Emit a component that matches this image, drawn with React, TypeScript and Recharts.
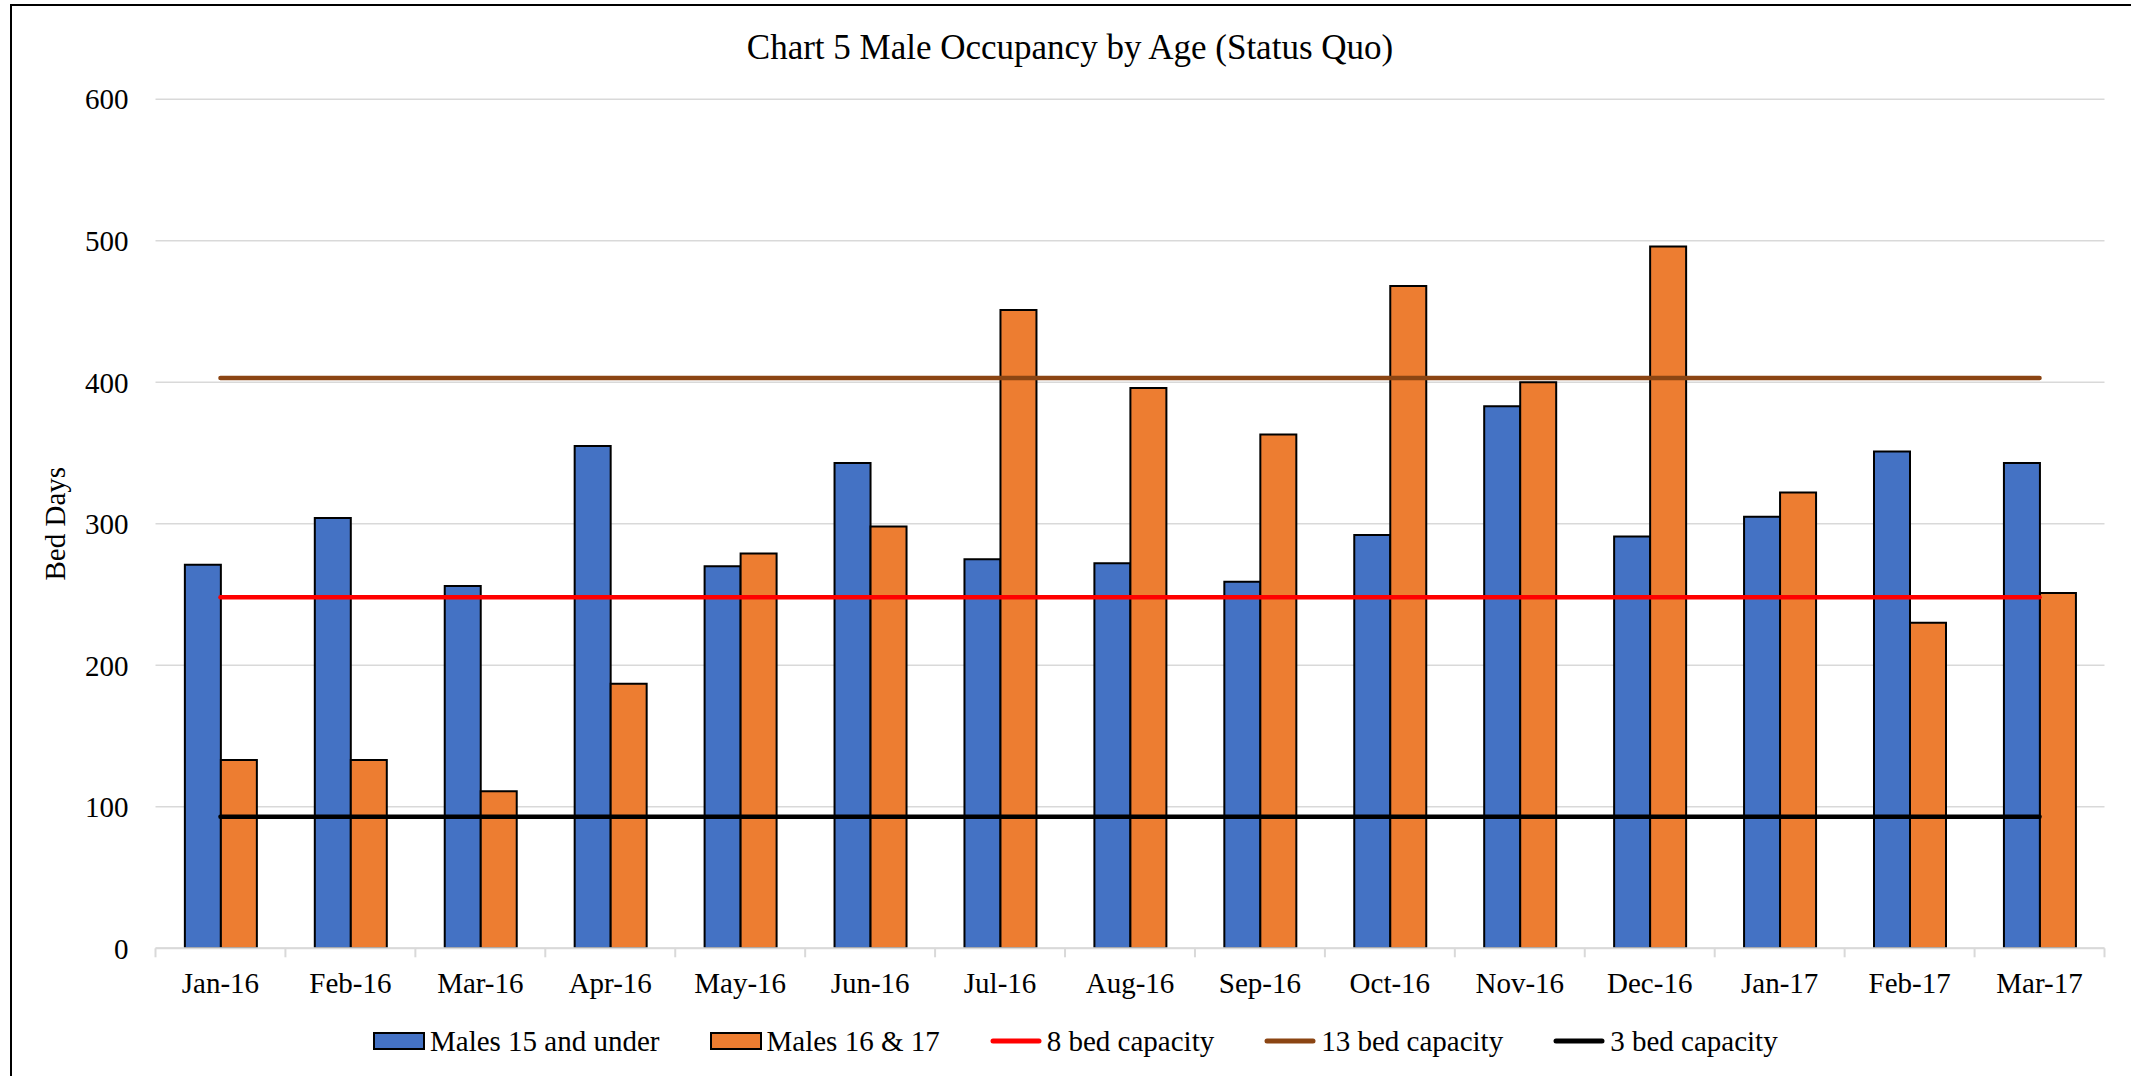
import React from 'react';
import { ComposedChart, Bar, Line, XAxis, YAxis, CartesianGrid, Legend } from 'recharts';

const months = ['Jan-16', 'Feb-16', 'Mar-16', 'Apr-16', 'May-16', 'Jun-16', 'Jul-16', 'Aug-16', 'Sep-16', 'Oct-16', 'Nov-16', 'Dec-16', 'Jan-17', 'Feb-17', 'Mar-17'];
const males15AndUnder = [271, 304, 256, 355, 270, 343, 275, 272, 259, 292, 383, 291, 305, 351, 343];
const males16And17 = [133, 133, 111, 187, 279, 298, 451, 396, 363, 468, 400, 496, 322, 230, 251];
const bed8Capacity = [248, 248, 248, 248, 248, 248, 248, 248, 248, 248, 248, 248, 248, 248, 248];
const bed13Capacity = [403, 403, 403, 403, 403, 403, 403, 403, 403, 403, 403, 403, 403, 403, 403];
const bed3Capacity = [93, 93, 93, 93, 93, 93, 93, 93, 93, 93, 93, 93, 93, 93, 93];
const yTicks = [0, 100, 200, 300, 400, 500, 600];
const seriesNames = ['Males 15 and under', 'Males 16 & 17', '8 bed capacity', '13 bed capacity', '3 bed capacity'];

const data = months.map((m, i) => ({
  month: m,
  u15: males15AndUnder[i],
  a1617: males16And17[i],
  cap8: bed8Capacity[i],
  cap13: bed13Capacity[i],
  cap3: bed3Capacity[i],
}));

const FONT = '"Liberation Serif", "Times New Roman", serif';
const W = 2131;
const H = 1076;
const TICK_MARGIN = 10;
const PLOT_LEFT = 155.5;
const PLOT_RIGHT_MARGIN = 26.5;
const GRID = '#d9d9d9';

const XTick = (props: any) => {
  const { x, y, payload, index, visibleTicksCount } = props;
  const half = payload && payload.offset != null ? payload.offset : (W - PLOT_LEFT - PLOT_RIGHT_MARGIN) / months.length / 2;
  const axisY = y - TICK_MARGIN;
  return (
    <g>
      <line x1={x - half} x2={x - half} y1={axisY} y2={axisY + 9} stroke={GRID} strokeWidth={2} />
      {index === visibleTicksCount - 1 && (
        <line x1={x + half} x2={x + half} y1={axisY} y2={axisY + 9} stroke={GRID} strokeWidth={2} />
      )}
      <text x={x} y={axisY + 45} textAnchor="middle" fontSize={29} fontFamily={FONT} fill="#000">
        {payload.value}
      </text>
    </g>
  );
};

const YLabel = (props: any) => {
  const vb = props.viewBox || {};
  const cx = 55;
  const cy = (vb.y || 0) + (vb.height || 0) / 2;
  return (
    <text
      x={cx}
      y={cy}
      transform={`rotate(-90, ${cx}, ${cy})`}
      textAnchor="middle"
      dominantBaseline="central"
      fontSize={29}
      fontFamily={FONT}
      fill="#000"
    >
      Bed Days
    </text>
  );
};

const LegendContent = (props: any) => {
  const payload = [...(props.payload || [])].sort(
    (a: any, b: any) => seriesNames.indexOf(a.value) - seriesNames.indexOf(b.value)
  );
  return (
    <div
      style={{
        height: 40,
        width: W,
        display: 'flex',
        alignItems: 'center',
        paddingLeft: 373,
        boxSizing: 'border-box',
        fontFamily: FONT,
        fontSize: 29,
        color: '#000',
      }}
    >
      {payload.map((entry: any, i: number) => (
        <div key={i} style={{ display: 'flex', alignItems: 'center', marginRight: 50 }}>
          <svg width={52} height={20} style={{ marginRight: 5 }}>
            {entry.type === 'line' ? (
              <line x1={3} x2={49} y1={10} y2={10} stroke={entry.color} strokeWidth={5} strokeLinecap="round" />
            ) : (
              <rect x={1} y={2} width={50} height={16} fill={entry.color} stroke="#000" strokeWidth={2} />
            )}
          </svg>
          <span style={{ whiteSpace: 'nowrap', lineHeight: 1, fontFamily: FONT }}>{entry.value}</span>
        </div>
      ))}
    </div>
  );
};

export default function App() {
  return (
    <div style={{ position: 'fixed', left: 0, top: 0, width: W, height: H, overflow: 'hidden', background: '#fff' }}>
      <div
        style={{
          position: 'absolute',
          left: 10,
          top: 4,
          width: W + 100,
          height: H + 100,
          borderLeft: '2px solid #000',
          borderTop: '2px solid #000',
        }}
      />
      <div
        style={{
          position: 'absolute',
          left: 1070 - 500,
          width: 1000,
          top: 29.7,
          textAlign: 'center',
          fontFamily: FONT,
          fontSize: 35,
          lineHeight: 1,
          color: '#000',
          whiteSpace: 'nowrap',
        }}
      >
        Chart 5 Male Occupancy by Age (Status Quo)
      </div>
      <div style={{ position: 'absolute', left: 0, top: 0 }}>
        <ComposedChart
          width={W}
          height={H}
          data={data}
          margin={{ top: 99.2, right: PLOT_RIGHT_MARGIN, bottom: 27.7, left: 0 }}
          barCategoryGap="22.6%"
          barGap={0}
        >
          <CartesianGrid horizontal={true} vertical={false} stroke={GRID} strokeWidth={1.5} />
          <XAxis
            dataKey="month"
            height={60}
            interval={0}
            tickLine={false}
            tickSize={0}
            tickMargin={TICK_MARGIN}
            axisLine={{ stroke: GRID, strokeWidth: 2 }}
            tick={<XTick />}
          />
          <YAxis
            width={PLOT_LEFT}
            domain={[0, 600]}
            ticks={yTicks}
            allowDataOverflow={true}
            axisLine={false}
            tickLine={false}
            tickSize={0}
            tickMargin={27}
            tick={{ fontSize: 29, fontFamily: FONT, fill: '#000' }}
            label={<YLabel />}
          />
          <Legend
            verticalAlign="bottom"
            content={<LegendContent />}
            wrapperStyle={{ top: 1021, bottom: 'auto', left: 0, width: W, height: 40 }}
          />
          <Bar dataKey="u15" name={seriesNames[0]} fill="#4472C4" stroke="#000" strokeWidth={2} isAnimationActive={false} />
          <Bar dataKey="a1617" name={seriesNames[1]} fill="#ED7D31" stroke="#000" strokeWidth={2} isAnimationActive={false} />
          <Line dataKey="cap8" name={seriesNames[2]} type="linear" stroke="#FF0000" strokeWidth={4.5} strokeLinecap="round" dot={false} activeDot={false} legendType="line" isAnimationActive={false} />
          <Line dataKey="cap13" name={seriesNames[3]} type="linear" stroke="#8B4513" strokeWidth={4.5} strokeLinecap="round" dot={false} activeDot={false} legendType="line" isAnimationActive={false} />
          <Line dataKey="cap3" name={seriesNames[4]} type="linear" stroke="#000000" strokeWidth={4.5} strokeLinecap="round" dot={false} activeDot={false} legendType="line" isAnimationActive={false} />
        </ComposedChart>
      </div>
    </div>
  );
}
